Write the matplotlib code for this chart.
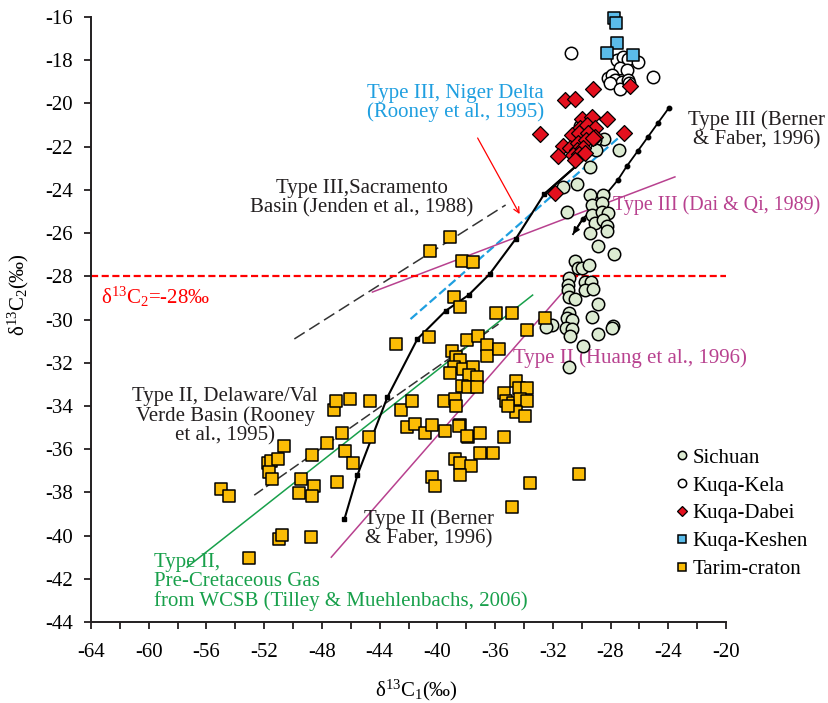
import matplotlib
matplotlib.use("Agg")
import matplotlib.pyplot as plt
from matplotlib.lines import Line2D

plt.rcParams['font.family'] = ['Liberation Serif', 'DejaVu Serif']
plt.rcParams['mathtext.fontset'] = 'custom'
plt.rcParams['mathtext.rm'] = 'Liberation Serif'
plt.rcParams['mathtext.it'] = 'Liberation Serif:italic'
plt.rcParams['mathtext.bf'] = 'Liberation Serif:bold'
plt.rcParams['axes.unicode_minus'] = False

# ---------------- sample data: delta13C1 (x) vs delta13C2 (y), permil ----------------
sichuan_x = [-28.46, -27.43, -29.10, -29.03, -29.44, -30.34, -31.31, -29.44, -28.54, -30.13,
             -29.30, -28.61, -31.04, -29.30, -28.61, -28.19, -29.09, -28.54, -28.26, -29.44,
             -28.26, -28.89, -27.78, -30.48, -30.27, -30.00, -29.51, -30.90, -30.97, -30.97,
             -30.90, -30.48, -29.79, -29.37, -29.79, -29.23, -28.89, -30.90, -31.04, -30.69,
             -31.10, -30.69, -30.83, -29.30, -28.89, -27.85, -27.92, -29.93, -32.08, -32.50,
             -30.90]
sichuan_y = [-21.65, -22.16, -21.69, -22.16, -22.94, -23.73, -23.87, -24.24, -24.24, -21.05,
             -24.70, -24.61, -25.03, -25.17, -25.03, -25.07, -25.54, -25.40, -25.68, -26.00,
             -25.91, -26.60, -26.97, -27.30, -27.62, -27.62, -27.48, -28.08, -28.40, -28.64,
             -28.96, -29.06, -28.27, -28.27, -28.64, -28.59, -29.29, -29.70, -29.94, -30.03,
             -30.40, -30.44, -30.77, -29.89, -30.68, -30.31, -30.40, -31.23, -30.26, -30.35,
             -32.20]

kela_x = [-30.76, -27.57, -27.15, -26.80, -26.11, -25.07, -27.36, -26.87, -28.19, -27.92,
          -27.71, -27.22, -26.80, -28.05, -27.36, -26.73]
kela_y = [-17.67, -17.99, -17.85, -17.94, -18.08, -18.78, -18.36, -18.45, -18.82, -18.69,
          -18.92, -19.00, -18.92, -19.06, -19.33, -19.06]

dabei_x = [-29.23, -31.18, -30.48, -26.66, -29.99, -29.30, -28.26, -30.13, -29.65, -29.09,
           -30.69, -30.20, -29.58, -29.09, -32.91, -27.08, -31.31, -30.83, -30.27, -29.72,
           -29.23, -30.34, -29.93, -30.62, -30.20, -29.79, -31.66, -30.48, -31.87]
dabei_y = [-19.33, -19.84, -19.80, -19.19, -20.72, -20.63, -20.72, -21.14, -21.00, -21.14,
           -21.46, -21.37, -21.37, -21.56, -21.42, -21.37, -21.97, -22.06, -21.83, -21.69,
           -21.60, -22.16, -22.06, -22.39, -22.34, -22.30, -22.44, -22.62, -24.15]

keshen_x = [-27.78, -27.64, -27.57, -28.26, -26.46]
keshen_y = [-16.05, -16.28, -17.20, -17.67, -17.76]

tarim_x = [-54.98, -54.42, -53.04, -50.95, -50.75, -48.73, -51.72, -51.50, -51.02, -50.61,
           -51.65, -51.44, -49.43, -48.52, -49.57, -48.66, -48.66, -47.62, -46.58, -46.37,
           -45.82, -46.93, -47.14, -47.00, -46.03, -44.64, -44.71, -42.90, -42.49, -41.79,
           -42.07, -41.58, -40.89, -40.40, -39.50, -40.61, -39.57, -38.81, -38.74, -38.46,
           -37.91, -37.07, -35.41, -39.09, -40.54, -38.32, -37.56, -38.88, -38.46, -35.96,
           -34.85, -37.98, -37.21, -36.59, -36.59, -35.76, -33.81, -32.56, -39.02, -38.74,
           -38.46, -38.88, -38.25, -37.56, -37.84, -37.28, -39.09, -38.32, -37.91, -37.28,
           -34.58, -34.37, -33.81, -35.41, -35.27, -34.78, -34.30, -33.81, -34.58, -33.95,
           -35.13, -33.60, -34.85, -37.07, -36.17, -38.81, -38.46, -37.70, -38.46, -40.40,
           -40.13, -38.53, -37.98, -30.20]
tarim_y = [-37.85, -38.18, -41.05, -40.17, -39.98, -40.07, -36.65, -36.55, -36.46, -35.86,
           -37.06, -37.39, -37.39, -37.71, -38.04, -38.18, -36.28, -35.72, -35.26, -36.09,
           -36.65, -37.53, -34.19, -33.78, -33.69, -33.78, -35.44, -31.14, -34.19, -33.78,
           -34.98, -34.84, -35.26, -34.89, -35.17, -30.81, -33.78, -33.69, -34.01, -34.89,
           -35.44, -35.26, -35.44, -26.19, -26.83, -27.30, -27.34, -28.96, -29.43, -29.70,
           -29.70, -30.95, -30.77, -31.19, -31.69, -31.37, -30.49, -29.94, -31.46, -31.74,
           -31.88, -32.20, -32.30, -32.20, -32.57, -32.67, -32.48, -33.08, -33.13, -33.13,
           -32.85, -33.18, -33.18, -33.41, -33.78, -33.87, -33.69, -33.78, -34.29, -34.47,
           -34.00, -37.57, -38.69, -36.19, -36.19, -36.46, -36.65, -36.79, -37.20, -37.30,
           -37.71, -34.94, -35.40, -37.16]

# ---------------- reference genetic lines ----------------
berner2_x = [-46.44, -45.54, -43.46, -41.38, -39.43, -37.84, -36.38, -34.58, -32.60]
berner2_y = [-39.24, -37.20, -33.59, -30.90, -29.60, -28.87, -27.90, -26.28, -24.20]
berner2_tip = (-29.44, -22.34)

berner3_x = [-23.96, -24.72, -25.42, -26.11, -26.87, -27.50, -28.25, -29.10, -29.93]
berner3_y = [-20.21, -20.91, -21.56, -22.20, -22.90, -23.55, -24.15, -24.80, -25.35]
berner3_tip = (-30.60, -26.05)

sacramento_x = [-49.91, -35.27]
sacramento_y = [-30.90, -24.70]

niger_x = [-41.86, -27.22]
niger_y = [-29.98, -21.46]

daiqi_x = [-44.50, -23.54]
daiqi_y = [-28.73, -23.40]

huang_x = [-47.35, -30.27]
huang_y = [-41.00, -27.94]

delaware_x = [-52.69, -35.76]
delaware_y = [-38.13, -30.21]

wcsb_x = [-57.34, -33.40]
wcsb_y = [-41.46, -28.87]

c2_threshold = -28

xticks = list(range(-64, -19, 4))
xminor = list(range(-62, -20, 4))
yticks = list(range(-44, -15, 2))

# ---------------- colours ----------------
c_sichuan = '#DCEBD2'
c_dabei = '#E3101E'
c_keshen = '#5BBCEA'
c_tarim = '#FBBC05'
c_magenta = '#B8418F'
c_green = '#18A04B'
c_blue = '#1F9FE0'
c_text = '#231F20'

fig = plt.figure(figsize=(8.29, 7.03), dpi=100)
ax = fig.add_axes([91 / 829, 1 - 622 / 703, 635 / 829, 605 / 703])
ax.set_xlim(-64, -20)
ax.set_ylim(-44, -16)

# lines
ax.plot(sacramento_x, sacramento_y, color='#333333', lw=1.1, dashes=(8, 3.5), zorder=2)
ax.plot(niger_x, niger_y, color=c_blue, lw=1.6, dashes=(4, 1.7), zorder=2)
ax.plot(daiqi_x, daiqi_y, color=c_magenta, lw=1.1, zorder=2)
ax.plot(huang_x, huang_y, color=c_magenta, lw=1.1, zorder=2)
ax.plot(wcsb_x, wcsb_y, color=c_green, lw=1.1, zorder=2)
ax.plot(delaware_x, delaware_y, color='#333333', lw=1.1, dashes=(7, 2.5), zorder=2)
ax.axhline(c2_threshold, color='#FF0000', lw=1.6, dashes=(3.2, 1.6), zorder=2)

ax.plot(berner2_x + [berner2_tip[0]], berner2_y + [berner2_tip[1]], color='black', lw=1.5, zorder=3)
ax.plot(berner2_x, berner2_y, ls='none', marker='s', ms=3.2, color='black', zorder=3)
ax.annotate('', xy=berner2_tip, xytext=(berner2_x[-1], berner2_y[-1]),
            arrowprops=dict(arrowstyle='-|>', color='black', lw=1.5, mutation_scale=9,
                            shrinkA=0, shrinkB=0), zorder=3)
ax.plot(berner3_x + [berner3_tip[0]], berner3_y + [berner3_tip[1]], color='black', lw=1.3, zorder=3)
ax.plot(berner3_x, berner3_y, ls='none', marker='o', ms=3.2, color='black', zorder=3)
ax.annotate('', xy=berner3_tip, xytext=(berner3_x[-1], berner3_y[-1]),
            arrowprops=dict(arrowstyle='-|>', color='black', lw=1.3, mutation_scale=9,
                            shrinkA=0, shrinkB=0), zorder=3)

# samples
ax.scatter(sichuan_x, sichuan_y, s=80, marker='o', facecolor=c_sichuan, edgecolor='black',
           linewidths=1.1, zorder=4, clip_on=False)
ax.scatter(kela_x, kela_y, s=80, marker='o', facecolor='white', edgecolor='black',
           linewidths=1.1, zorder=4, clip_on=False)
ax.scatter(dabei_x, dabei_y, s=66, marker='D', facecolor=c_dabei, edgecolor='black',
           linewidths=0.9, zorder=5, clip_on=False)
ax.scatter(keshen_x, keshen_y, s=75, marker='s', facecolor=c_keshen, edgecolor='black',
           linewidths=1.1, zorder=5, clip_on=False)
ax.scatter(tarim_x, tarim_y, s=75, marker='s', facecolor=c_tarim, edgecolor='black',
           linewidths=1.1, zorder=5, clip_on=False)

# annotations
fs = 15
ax.text(-38.74, -19.98, 'Type III, Niger Delta\n(Rooney et al., 1995)', color=c_blue,
        fontsize=fs, ha='center', va='center', linespacing=1.0, zorder=6)
ax.annotate('', xy=(-34.3, -25.12), xytext=(-37.21, -21.6),
            arrowprops=dict(arrowstyle='->', color='red', lw=0.9, mutation_scale=10,
                            shrinkA=0, shrinkB=0))
ax.text(-17.89, -21.23, 'Type III (Berner\n& Faber, 1996)', color=c_text, fontsize=fs,
        ha='center', va='center', linespacing=1.0, clip_on=False)
ax.text(-45.26, -24.38, 'Type III,Sacramento\nBasin (Jenden et al., 1988)', color=c_text,
        fontsize=fs, ha='center', va='center', linespacing=1.0)
ax.text(-27.8, -24.7, 'Type III (Dai & Qi, 1989)', color=c_magenta, fontsize=14.4,
        ha='left', va='center', clip_on=False)
ax.text(-34.78, -31.79, 'Type II (Huang et al., 1996)', color=c_magenta, fontsize=fs,
        ha='left', va='center')
ax.text(-54.7, -34.47, 'Type II, Delaware/Val\nVerde Basin (Rooney\net al., 1995)', color=c_text,
        fontsize=fs, ha='center', va='center', linespacing=1.0)
ax.text(-40.61, -39.7, 'Type II (Berner\n& Faber, 1996)', color=c_text, fontsize=fs,
        ha='center', va='center', linespacing=1.0)
ax.text(-59.63, -42.16, 'Type II,\nPre-Cretaceous Gas\nfrom WCSB (Tilley & Muehlenbachs, 2006)',
        color=c_green, fontsize=fs, ha='left', va='center', linespacing=1.0)
ax.text(-63.3, -28.96, 'δ$^{13}$C$_2$=-28‰', color='#FF0000', fontsize=fs,
        ha='left', va='center')

# axes styling
for side in ('top', 'right'):
    ax.spines[side].set_visible(False)
for side in ('left', 'bottom'):
    ax.spines[side].set_linewidth(1.4)
    ax.spines[side].set_color('#231F20')
ax.set_xticks(xticks)
ax.set_xticks(xminor, minor=True)
ax.set_yticks(yticks)
ax.tick_params(axis='both', which='both', direction='out', length=5, width=1.3,
               color='#231F20', labelsize=fs)
ax.tick_params(axis='x', which='major', pad=10)
ax.tick_params(axis='y', which='major', pad=8)

ax.set_xlabel('δ$^{13}$C$_1$(‰)', fontsize=fs)
ax.xaxis.set_label_coords((416 - 91) / 635, (622 - 690) / 605)
ax.xaxis.label.set_va('center')
ax.set_ylabel('δ$^{13}$C$_2$(‰)', fontsize=fs)
ax.yaxis.set_label_coords((18 - 91) / 635, 1 - (295 - 17) / 605)
ax.yaxis.label.set_va('center')

# legend
handles = [
    Line2D([], [], ls='none', marker='o', ms=6, mfc=c_sichuan, mec='black', mew=1.1),
    Line2D([], [], ls='none', marker='o', ms=6, mfc='white', mec='black', mew=1.1),
    Line2D([], [], ls='none', marker='D', ms=5.5, mfc=c_dabei, mec='black', mew=0.9),
    Line2D([], [], ls='none', marker='s', ms=6, mfc=c_keshen, mec='black', mew=1.1),
    Line2D([], [], ls='none', marker='s', ms=6, mfc=c_tarim, mec='black', mew=1.1),
]
labels = ['Sichuan', 'Kuqa-Kela', 'Kuqa-Dabei', 'Kuqa-Keshen', 'Tarim-craton']
ax.legend(handles, labels, loc='upper left',
          bbox_to_anchor=((676 - 91) / 635, (622 - 448) / 605),
          frameon=False, fontsize=15, borderpad=0, borderaxespad=0,
          handlelength=0.6, handletextpad=0.2, labelspacing=0.4)

fig.savefig('out.png', dpi=100)
